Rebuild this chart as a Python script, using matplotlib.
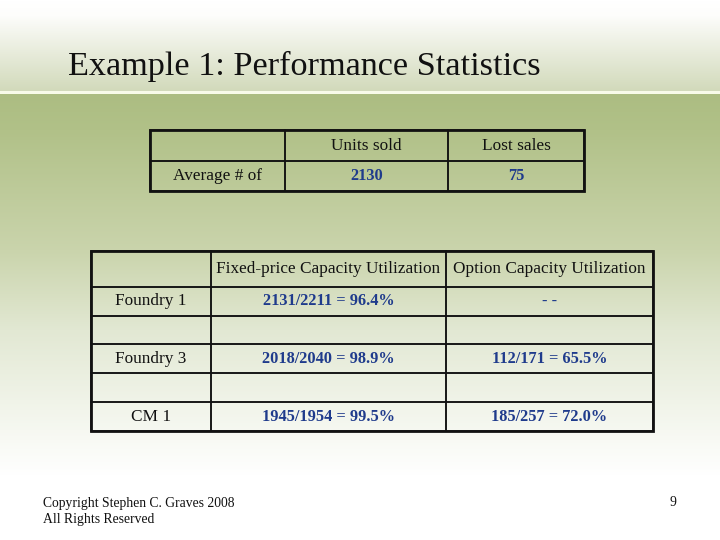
import numpy as np
import matplotlib
matplotlib.use('Agg')
import matplotlib.pyplot as plt
from matplotlib.colors import to_rgb

plt.rcParams['font.family'] = ['Liberation Serif', 'DejaVu Serif']

title = 'Example 1: Performance Statistics'

# table 1
t1_cols = ['', 'Units sold', 'Lost sales']
t1_rows = ['Average # of']
t1_vals = [['2130', '75']]

# table 2
t2_cols = ['', 'Fixed-price Capacity Utilization', 'Option Capacity Utilization']
t2_rows = ['Foundry 1', '', 'Foundry 3', '', 'CM 1']
t2_vals = [['2131/2211 = 96.4%', '- -'],
           ['', ''],
           ['2018/2040 = 98.9%', '112/171 = 65.5%'],
           ['', ''],
           ['1945/1954 = 99.5%', '185/257 = 72.0%']]

footer = ['Copyright Stephen C. Graves 2008', 'All Rights Reserved']
page = '9'

blue = '#1f3b8c'
W, H = 720, 540

fig = plt.figure(figsize=(7.2, 5.4), dpi=100)
ax = fig.add_axes([0, 0, 1, 1])
ax.set_xlim(0, W)
ax.set_ylim(H, 0)
ax.axis('off')

# background gradient (slide template)
ys = np.arange(H)
stops_y = [0, 15, 90, 90.5, 93, 93.5, 130, 250, 330, 410, 475, 540]
stops_c = ['#ffffff', '#fdfdfb', '#d2dabb', '#f8fbe9', '#f8fbe9', '#acbd82',
           '#b1c188', '#cad4ac', '#e2e8d3', '#f2f5eb', '#ffffff', '#ffffff']
rgb = np.array([to_rgb(c) for c in stops_c])
grad = np.stack([np.interp(ys, stops_y, rgb[:, k]) for k in range(3)], axis=-1)
img = np.repeat(grad[:, None, :], 4, axis=1)
ax.imshow(img, extent=[0, W, H, 0], aspect='auto', zorder=0)

ax.text(68, 66, title, fontsize=24.7, color='#111111', va='center', ha='left')


def px_bbox(x0, y0, x1, y1):
    return [x0 / W, 1 - y1 / H, (x1 - x0) / W, (y1 - y0) / H]


def make_table(cols, rows, vals, edges_x, box, head_h, row_h, fs):
    cells = [cols] + [[r] + v for r, v in zip(rows, vals)]
    widths = np.diff(edges_x) / (edges_x[-1] - edges_x[0])
    tb = ax.table(cellText=cells, colWidths=list(widths), cellLoc='center',
                  bbox=px_bbox(*box))
    tb.auto_set_font_size(False)
    for (r, c), cell in tb.get_celld().items():
        cell.set_facecolor('none')
        cell.set_edgecolor('#111111')
        cell.set_linewidth(1.1)
        cell.set_height(head_h if r == 0 else row_h)
        txt = cell.get_text()
        txt.set_fontsize(fs)
        if r > 0 and c > 0:
            txt.set_color(blue)
            txt.set_fontweight('bold')
            txt.set_fontsize(fs - 0.6)
        else:
            txt.set_color('#111111')
    x0, y0, x1, y1 = box
    ax.add_patch(plt.Rectangle((x0, y0), x1 - x0, y1 - y0, fill=False,
                               ec='#111111', lw=2.0, zorder=5))
    return tb


make_table(t1_cols, t1_rows, t1_vals, np.array([150, 285, 448, 584]),
           (150, 130, 584, 191), 31, 30, 12.4)
make_table(t2_cols, t2_rows, t2_vals, np.array([91, 211, 446, 653]),
           (91, 251, 653, 431), 36, 29, 12.4)

ax.text(43, 503, footer[0], fontsize=9.8, va='center', ha='left', color='#111111')
ax.text(43, 520, footer[1], fontsize=9.8, va='center', ha='left', color='#111111')
ax.text(676, 503, page, fontsize=9.8, va='center', ha='right', color='#111111')

fig.savefig('out.png', dpi=100)
